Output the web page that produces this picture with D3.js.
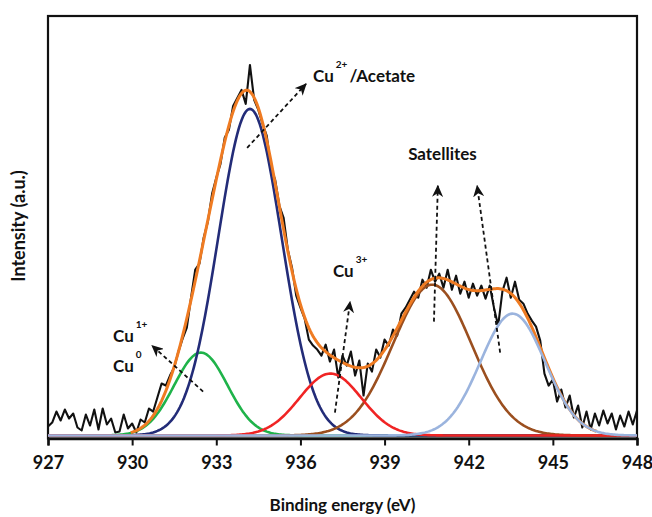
<!DOCTYPE html>
<html>
<head>
<meta charset="utf-8">
<script src="https://cdn.jsdelivr.net/npm/d3@7"></script>
<style>
  body { margin: 0; background: #fff; }
  text { font-family: Lato, "Open Sans", sans-serif; font-weight: bold; fill: #111; }
</style>
</head>
<body>
<svg id="chart" width="652" height="517"></svg>
<script>
// measured spectrum, one point every 0.15 eV from 927 eV
const energyStart = 927;
const energyStep = 0.15;
const intensity = [
  9, 13, 24, 15, 26, 17, 22, 8, 5, 21,
  10, 26, 6, 27, 11, 17, 3, 4, 21, 7,
  12, 3, 16, 13, 27, 24, 38, 52, 50, 60,
  68, 84, 97, 108, 138, 166, 172, 198, 214, 242,
  258, 272, 298, 306, 330, 338, 346, 332, 371, 336,
  326, 312, 300, 268, 256, 230, 218, 186, 168, 140,
  128, 117, 96, 90, 86, 80, 91, 74, 86, 58,
  80, 70, 84, 60, 75, 40, 72, 64, 86, 78,
  96, 90, 106, 100, 122, 128, 136, 144, 138, 156,
  148, 166, 154, 162, 148, 166, 146, 160, 142, 154,
  138, 152, 140, 150, 137, 150, 128, 110, 144, 158,
  138, 154, 136, 132, 122, 115, 109, 95, 62, 50,
  56, 34, 46, 28, 40, 18, 30, 8, 24, 6,
  22, 10, 25, 12, 22, 6, 20, 9, 24, 11,
  25
];

// fitted components (gaussian parameters)
const peakNames   = ['Cu0/Cu1+', 'Cu2+/Acetate', 'Cu3+', 'Satellite 1', 'Satellite 2'];
const peakCenters = [932.45, 934.2, 937.07, 940.7, 943.57];
const peakHeights = [83, 327, 62, 151, 122];
const peakSigmas  = [0.95, 1.13, 1.1, 1.4, 1.15];

const xTicks = [927, 930, 933, 936, 939, 942, 945, 948];

const peakColors = ['#1fb34a', '#232c78', '#f02424', '#9b4f1f', '#9bb4de'];
const envelopeColor = '#ef7b22';

const width = 652, height = 517;
const margin = { left: 48, right: 15, top: 16, bottom: 81 };
const axisY = height - margin.bottom + 2.5;

const svg = d3.select('#chart');

const x = d3.scaleLinear()
    .domain([927, 948])
    .range([margin.left, width - margin.right]);

const y = d3.scaleLinear()
    .domain([0, 420])
    .range([height - margin.bottom - 0.5, margin.top]);

const spectrum = intensity.map((v, i) => ({ e: energyStart + i * energyStep, v: v }));

const grid = d3.range(927, 948.0001, 0.05);
const gauss = (e, k) => peakHeights[k] * Math.exp(-Math.pow(e - peakCenters[k], 2) / (2 * peakSigmas[k] * peakSigmas[k]));
const components = peakNames.map((name, k) => grid.map(e => ({ e: e, v: gauss(e, k) })));
const envelope = grid.filter(e => e > 929.9 && e < 946.6)
    .map(e => ({ e: e, v: d3.sum(peakNames, (n, k) => gauss(e, k)) }));

const line = d3.line()
    .x(d => x(d.e))
    .y(d => y(d.v));

// frame
svg.append('rect')
    .attr('x', margin.left)
    .attr('y', margin.top)
    .attr('width', width - margin.left - margin.right)
    .attr('height', axisY - margin.top)
    .attr('fill', 'none')
    .attr('stroke', '#111')
    .attr('stroke-width', 2.2);

// measured data
svg.append('path')
    .datum(spectrum)
    .attr('d', line)
    .attr('fill', 'none')
    .attr('stroke', '#111')
    .attr('stroke-width', 2.1)
    .attr('stroke-linejoin', 'round');

// components: green, navy, brown, red, then envelope, then light blue
const drawOrder = [0, 1, 3, 2];
drawOrder.forEach(k => {
    svg.append('path')
        .datum(components[k])
        .attr('d', line)
        .attr('fill', 'none')
        .attr('stroke', peakColors[k])
        .attr('stroke-width', 2.6);
});

svg.append('path')
    .datum(envelope)
    .attr('d', line)
    .attr('fill', 'none')
    .attr('stroke', envelopeColor)
    .attr('stroke-width', 3);

svg.append('path')
    .datum(components[4])
    .attr('d', line)
    .attr('fill', 'none')
    .attr('stroke', peakColors[4])
    .attr('stroke-width', 2.6);

// x axis
const xAxis = svg.append('g')
    .attr('transform', `translate(0, ${axisY})`)
    .call(d3.axisBottom(x)
        .tickValues(xTicks)
        .tickSize(7)
        .tickPadding(11)
        .tickFormat(d3.format('d')));

xAxis.select('.domain')
    .attr('stroke', '#111')
    .attr('stroke-width', 2.4);
xAxis.selectAll('.tick line')
    .attr('stroke', '#111')
    .attr('stroke-width', 2);
xAxis.selectAll('.tick text')
    .attr('fill', '#111')
    .style('font-family', 'Lato, "Open Sans", sans-serif')
    .style('font-weight', 'bold')
    .style('font-size', '18px');

// axis titles
svg.append('text')
    .attr('x', (margin.left + width - margin.right) / 2)
    .attr('y', 511)
    .attr('text-anchor', 'middle')
    .style('font-size', '17px')
    .text('Binding energy (eV)');

svg.append('text')
    .attr('transform', `translate(25, ${(margin.top + height - margin.bottom) / 2}) rotate(-90)`)
    .attr('text-anchor', 'middle')
    .style('font-size', '18px')
    .text('Intensity (a.u.)');

// annotations
svg.append('defs').append('marker')
    .attr('id', 'head')
    .attr('markerUnits', 'userSpaceOnUse')
    .attr('markerWidth', 12)
    .attr('markerHeight', 11)
    .attr('refX', 11)
    .attr('refY', 5.5)
    .attr('orient', 'auto')
    .append('path')
    .attr('d', 'M0,0 L12,5.5 L0,11 L3.5,5.5 Z')
    .attr('fill', '#111');

const arrows = [
    [934.1, 288, 936.2, 352],
    [937.23, 23, 937.77, 134],
    [940.76, 114, 940.9, 250],
    [943.12, 83, 942.3, 250],
    [932.53, 44, 930.71, 90]
];

arrows.forEach(a => {
    svg.append('line')
        .attr('x1', x(a[0])).attr('y1', y(a[1]))
        .attr('x2', x(a[2])).attr('y2', y(a[3]))
        .attr('stroke', '#111')
        .attr('stroke-width', 1.8)
        .attr('stroke-dasharray', '4,3')
        .attr('marker-end', 'url(#head)');
});

function cuLabel(e, v, sup, rest) {
    const t = svg.append('text')
        .attr('x', x(e))
        .attr('y', y(v))
        .style('font-size', '17px');
    t.append('tspan').text('Cu');
    t.append('tspan').attr('dx', 2).attr('dy', -14).style('font-size', '10px').text(sup);
    if (rest) t.append('tspan').attr('dx', 2).attr('dy', 14).text(rest);
}

cuLabel(936.45, 354, '2+', '/Acetate');
cuLabel(937.16, 159, '3+');
cuLabel(929.32, 94, '1+');
cuLabel(929.32, 64, '0');

svg.append('text')
    .attr('x', x(939.84))
    .attr('y', y(276))
    .style('font-size', '17px')
    .text('Satellites');
</script>
</body>
</html>
